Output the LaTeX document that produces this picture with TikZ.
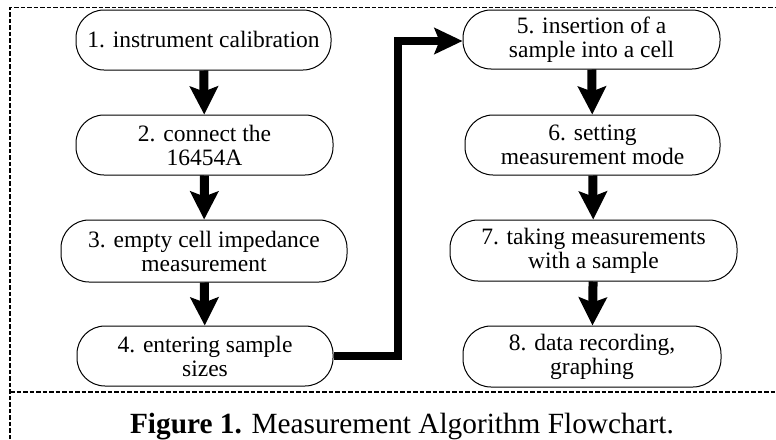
\documentclass[tikz,border=0pt]{standalone}
\usepackage{fontspec}
\setmainfont{Liberation Serif}
\usetikzlibrary{arrows.meta}
\begin{document}
\begin{tikzpicture}[x=1pt,y=-1pt,
  stage/.style={draw, line width=1pt, rounded corners=28pt, align=center,
    font=\fontsize{23.5}{24}\selectfont, inner sep=0pt},
  flow/.style={line width=9pt, -{Stealth[length=28pt,width=28pt,inset=5pt]}},
  jump/.style={line width=8pt, -{Stealth[length=28pt,width=26pt,inset=5pt]}},
  frame/.style={line width=1.5pt, dash pattern=on 4.5pt off 2pt}]
\useasboundingbox (0,0) rectangle (776,439);
\node[stage, minimum width=255pt, minimum height=60pt] (n1) at (203.5,40) {1. instrument calibration};
\node[stage, minimum width=257pt, minimum height=60pt] (n2) at (204.5,145) {2. connect the\\16454A};
\node[stage, minimum width=286pt, minimum height=62pt] (n3) at (204,251) {3. empty cell impedance\\measurement};
\node[stage, minimum width=256pt, minimum height=60pt] (n4) at (205,356) {4. entering sample\\sizes};
\node[stage, minimum width=257pt, minimum height=59pt] (n5) at (591.5,39.5) {5. insertion of a\\sample into a cell};
\node[stage, minimum width=255pt, minimum height=60pt] (n6) at (592.5,145) {6. setting\\measurement mode};
\node[stage, minimum width=287pt, minimum height=61pt] (n7) at (593.5,250.5) {7. taking measurements\\with a sample};
\node[stage, minimum width=258pt, minimum height=61pt] (n8) at (592,356.5) {8. data recording,\\graphing};
\draw[flow] (n1) -- (n2);
\draw[flow] (n2) -- (n3);
\draw[flow] (n3) -- (n4);
\draw[flow] (n5) -- (n6);
\draw[flow] (n6) -- (n7);
\draw[flow] (n7) -- (n8);
\coordinate (b1) at (397.5,356);
\coordinate (b2) at (397.5,41);
\draw[jump] (n4.east |- b1) -- (b1) -- (b2) -- (n5.west |- b2);
\coordinate (fa) at (10,439);
\coordinate (fb) at (10,7.5);
\coordinate (fc) at (776,7.5);
\coordinate (fd) at (10,392);
\coordinate (fe) at (776,392);
\draw[frame] (fa) -- (fb) -- (fc);
\draw[frame] (fd) -- (fe);
\node[font=\fontsize{29.3}{32}\selectfont, anchor=base] (cap) at (402,433) {\textbf{Figure 1.} Measurement Algorithm Flowchart.};
\end{tikzpicture}
\end{document}
